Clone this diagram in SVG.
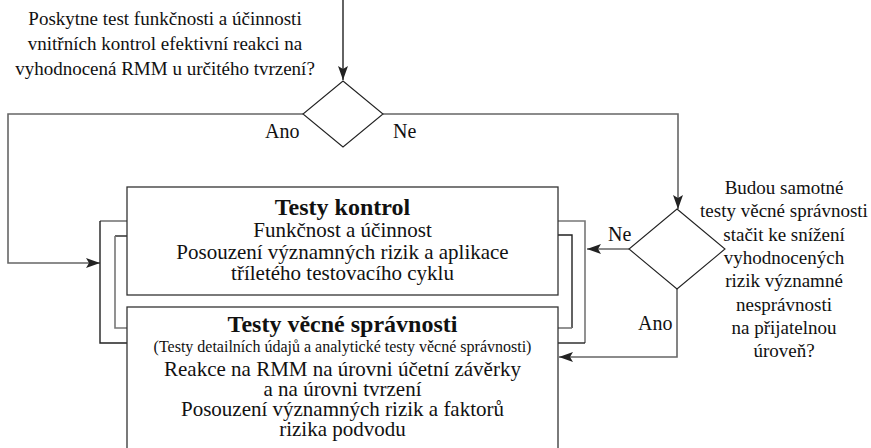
<svg xmlns="http://www.w3.org/2000/svg" width="871" height="448" viewBox="0 0 871 448" font-family="'Liberation Serif', 'Times New Roman', 'DejaVu Serif', serif">
  <style>
    text { font-family: "Liberation Serif", "Times New Roman", "DejaVu Serif", serif; fill: #111; }
    .q { font-size: 19px; text-anchor: middle; }
    .lbl { font-size: 20px; }
    .title { font-size: 24px; font-weight: bold; text-anchor: middle; }
    .body { font-size: 21px; text-anchor: middle; }
    .small { font-size: 16px; text-anchor: middle; }
    .box { fill: #fff; stroke: #333; stroke-width: 1.3; }
    .dec { fill: #fff; stroke: #222; stroke-width: 1.1; }
    .flow { fill: none; stroke: #666; stroke-width: 1.6; }
    .dark { fill: none; stroke: #222; stroke-width: 1.4; }
    .grey { fill: none; stroke: #777; stroke-width: 1.6; }
  </style>
  <defs>
    <marker id="arrow" viewBox="0 0 14 10" refX="14" refY="5" markerWidth="14" markerHeight="10" markerUnits="userSpaceOnUse" orient="auto">
      <path d="M0,0 L14,5 L0,10 L3,5 Z" fill="#222"/>
    </marker>
  </defs>

  <!-- connectors -->
  <g id="connectors">
    <path class="dark" d="M343,0 V80" marker-end="url(#arrow)"/>
    <path class="flow" d="M303,114 H8 V263 H100" marker-end="url(#arrow)"/>
    <path class="flow" d="M383,114 H678 V209" marker-end="url(#arrow)"/>
    <path class="flow" d="M629,249 H587" marker-end="url(#arrow)"/>
    <path class="flow" d="M677,288 V357 H559" marker-end="url(#arrow)"/>
    <!-- brackets joining the two test boxes -->
    <path class="grey" d="M127,221 H100"/>
    <path class="dark" d="M100,221 V343 H127"/>
    <path class="dark" d="M127,236 H115"/>
    <path class="grey" d="M115,236 V328 H127"/>
    <path class="grey" d="M558,221 H585 V343"/>
    <path class="dark" d="M585,343 H558"/>
    <path class="dark" d="M558,235 H572 V328"/>
    <path class="grey" d="M572,328 H558"/>
  </g>

  <!-- first decision -->
  <g id="decision-controls">
    <polygon class="dec" points="343,81 383,114 343,147 303,114"/>
    <text class="q" x="165" y="25">Poskytne test funkčnosti a účinnosti</text>
    <text class="q" x="165" y="50">vnitřních kontrol efektivní reakci na</text>
    <text class="q" x="165" y="75">vyhodnocená RMM u určitého tvrzení?</text>
    <text class="lbl" x="265" y="138">Ano</text>
    <text class="lbl" x="393" y="138">Ne</text>
  </g>

  <!-- second decision -->
  <g id="decision-substantive">
    <polygon class="dec" points="677,209 725,249 677,289 629,249"/>
    <text class="q" x="784" y="194">Budou samotné</text>
    <text class="q" x="784" y="217">testy věcné správnosti</text>
    <text class="q" x="784" y="241">stačit ke snížení</text>
    <text class="q" x="784" y="264">vyhodnocených</text>
    <text class="q" x="784" y="287">rizik významné</text>
    <text class="q" x="784" y="311">nesprávnosti</text>
    <text class="q" x="784" y="334">na přijatelnou</text>
    <text class="q" x="784" y="357">úroveň?</text>
    <text class="lbl" x="638" y="330">Ano</text>
    <text class="lbl" x="608" y="241">Ne</text>
  </g>

  <!-- tests of controls -->
  <g id="box-controls">
    <rect class="box" x="127" y="187" width="431" height="108"/>
    <text class="title" x="342.5" y="215">Testy kontrol</text>
    <text class="body" x="342.5" y="237">Funkčnost a účinnost</text>
    <text class="body" x="342.5" y="259">Posouzení významných rizik a aplikace</text>
    <text class="body" x="342.5" y="280">tříletého testovacího cyklu</text>
  </g>

  <!-- substantive tests -->
  <g id="box-substantive">
    <rect class="box" x="127" y="307" width="431" height="160"/>
    <text class="title" x="342.5" y="332">Testy věcné správnosti</text>
    <text class="small" x="342.5" y="352">(Testy detailních údajů a analytické testy věcné správnosti)</text>
    <text class="body" x="342.5" y="376">Reakce na RMM na úrovni účetní závěrky</text>
    <text class="body" x="342.5" y="396">a na úrovni tvrzení</text>
    <text class="body" x="342.5" y="416">Posouzení významných rizik a faktorů</text>
    <text class="body" x="342.5" y="436">rizika podvodu</text>
  </g>
</svg>
